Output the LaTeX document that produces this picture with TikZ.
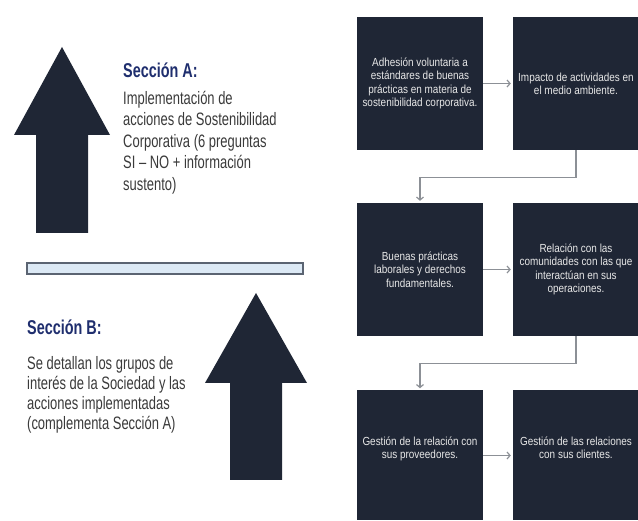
\documentclass[tikz,border=0pt]{standalone}
\usepackage{fontspec}
\usetikzlibrary{positioning,arrows.meta}
\newfontfamily\narrowsans[FakeStretch=0.72]{Liberation Sans}
\newfontfamily\boxsans[FakeStretch=0.85]{Liberation Sans}
\definecolor{navy}{HTML}{1F2635}
\definecolor{headblue}{HTML}{1F2E6E}
\definecolor{bodygray}{HTML}{3A3A3A}
\definecolor{boxtext}{HTML}{E8E8E8}
\definecolor{linkgray}{HTML}{8C9096}
\definecolor{barfill}{HTML}{DCE9F5}
\definecolor{bardraw}{HTML}{5B6472}

\begin{document}
\begin{tikzpicture}[x=1pt,y=-1pt,node distance=186pt and 156pt,on grid,
   >={Straight Barb[length=3pt,width=7pt]},
   box/.style={fill=navy, text=boxtext, minimum width=126pt, minimum height=133pt,
      inner sep=2pt, align=center, font=\boxsans\fontsize{11.7}{13.3}\selectfont},
   head/.style={text=headblue, inner sep=0pt, font=\narrowsans\bfseries\fontsize{20}{24}\selectfont},
   body/.style={text=bodygray, inner sep=0pt, align=left},
   link/.style={draw=linkgray, line width=1.2pt, ->, shorten >=2pt}]
   \useasboundingbox (0,0) rectangle (638,521);

   % big arrows
   \fill[navy] (62,47) -- (110,135) -- (88,135) -- (88,233) -- (36,233) -- (36,135) -- (14,135) -- cycle;
   \fill[navy] (256,293) -- (307,383) -- (282,383) -- (282,480) -- (230,480) -- (230,383) -- (205,383) -- cycle;

   % separator
   \draw[fill=barfill, draw=bardraw, line width=1.2pt] (27,263) rectangle (303,274);

   % section texts
   \node[head, anchor=west] (hA) at (123,70) {Sección A:};
   \node[body, anchor=north west, font=\narrowsans\fontsize{18}{21.5}\selectfont] (tA) at (123,91)
      {Implementación de\\acciones de Sostenibilidad\\Corporativa (6 preguntas\\SI – NO + información\\sustento)};
   \node[head, anchor=west] (hB) at (27,327) {Sección B:};
   \node[body, anchor=north west, font=\narrowsans\fontsize{18}{20}\selectfont] (tB) at (27,356)
      {Se detallan los grupos de\\interés de la Sociedad y las\\acciones implementadas\\(complementa Sección A)};

   % topics
   \node[box] (p1) at (420,83.5) {Adhesión voluntaria a\\estándares de buenas\\prácticas en materia de\\sostenibilidad corporativa.};
   \node[box] (p2) [right=of p1] {Impacto de actividades en\\el medio ambiente.};
   \node[box] (p3) [below=of p1] {Buenas prácticas\\laborales y derechos\\fundamentales.};
   \node[box] (p4) [right=of p3] {Relación con las\\comunidades con las que\\interactúan en sus\\operaciones.};
   \node[box, minimum height=130pt] (p5) [below=of p3] {Gestión de la relación con\\sus proveedores.\\[2pt]};
   \node[box, minimum height=130pt] (p6) [right=of p5] {Gestión de las relaciones\\con sus clientes.\\[2pt]};

   \draw[link] (p1) -- (p2);
   \draw[link] (p2.south) -- ++(0,27) -| (p3.north);
   \draw[link] (p3) -- (p4);
   \draw[link] (p4.south) -- ++(0,27) -| (p5.north);
   \draw[link] (p5) -- (p6);
\end{tikzpicture}
\end{document}
